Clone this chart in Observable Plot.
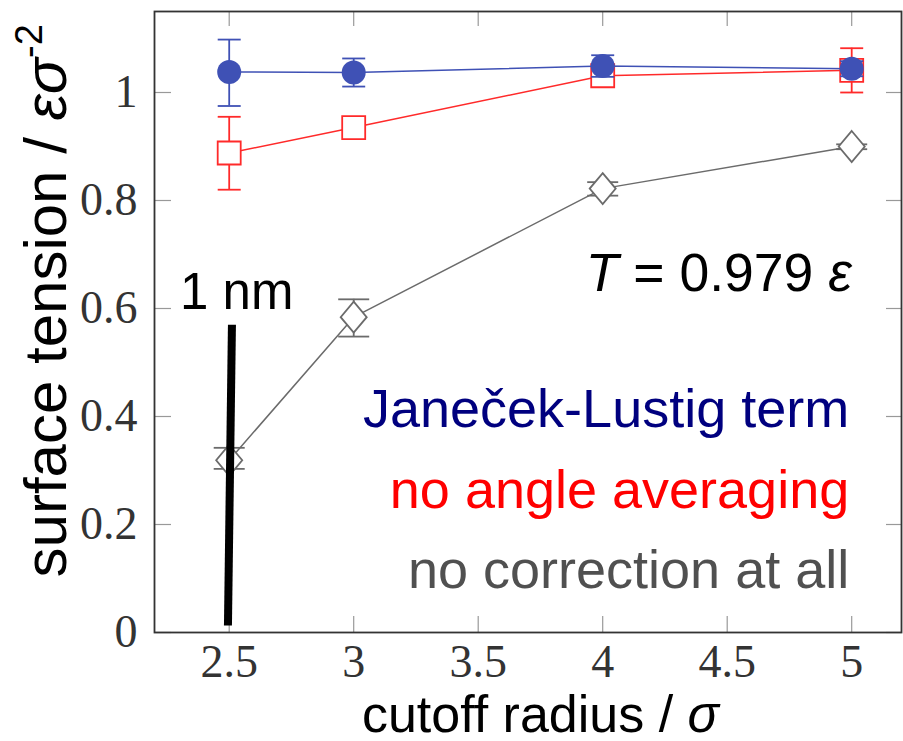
<!DOCTYPE html>
<html><head><meta charset="utf-8">
<script src="https://cdn.jsdelivr.net/npm/d3@7"></script>
<script src="https://cdn.jsdelivr.net/npm/@observablehq/plot@0.6"></script>
<style>html,body{margin:0;padding:0;background:#fff;} #chart svg{display:block;}</style>
</head><body><div id="chart"></div>
<script>
// ---- data ----
const cutoffs = [2.5, 3, 4, 5];
const jlMean = [1.038, 1.037, 1.049, 1.044];
const jlLo   = [0.975, 1.011, 1.029, 1.030];
const jlHi   = [1.098, 1.063, 1.069, 1.058];
const naMean = [0.888, 0.935, 1.031, 1.041];
const naLo   = [0.820, 0.925, 1.021, 1.000];
const naHi   = [0.955, 0.945, 1.041, 1.082];
const ncMean = [0.319, 0.584, 0.822, 0.900];
const ncLo   = [0.303, 0.548, 0.809, 0.895];
const ncHi   = [0.342, 0.617, 0.834, 0.904];
const seriesNames = ["Janeček-Lustig term", "no angle averaging", "no correction at all"];
const seriesColors = ["#3f51b5", "#ff2a2a", "#6b6b6b"];
const legendColors = ["#00007f", "#ff0000", "#505050"];
const xTicks = [2.5, 3, 3.5, 4, 4.5, 5];
const yTicks = [0, 0.2, 0.4, 0.6, 0.8, 1];
// "1 nm" scale bar (x, y of its two ends)
const nmBarX = [2.511, 2.495];
const nmBarY = [0.57, 0.013];
// annotation anchors (data coordinates)
const legendX = [4.99, 4.99, 4.99];
const legendY = [0.380, 0.231, 0.083];
const tempLabel = ["T = 0.979 ε"]; const tempX = [5.0]; const tempY = [0.633];
const nmLabel = ["1 nm"]; const nmX = [2.53]; const nmY = [0.6];
const xTitle = "cutoff radius / σ";
const yTitle = "surface tension / εσ-2";

// ---- build tables ----
function rows(mean, lo, hi, name) {
  return cutoffs.map((c, i) => ({x: c, y: mean[i], lo: lo[i], hi: hi[i], s: name}));
}
const jl = rows(jlMean, jlLo, jlHi, seriesNames[0]);
const na = rows(naMean, naLo, naHi, seriesNames[1]);
const nc = rows(ncMean, ncLo, ncHi, seriesNames[2]);
const nmBar = nmBarX.map((x, i) => ({x, y: nmBarY[i]}));
const legend = seriesNames.map((t, i) => ({t, x: legendX[i], y: legendY[i], c: legendColors[i]}));

// custom symbols (size = pi r^2)
const sq = {draw(ctx, size){ const r = Math.sqrt(size/Math.PI); ctx.moveTo(-r,-r); ctx.lineTo(r,-r); ctx.lineTo(r,r); ctx.lineTo(-r,r); ctx.closePath(); }};
const dia = {draw(ctx, size){ const r = Math.sqrt(size/Math.PI); const w = r*0.84; ctx.moveTo(0,-r); ctx.lineTo(w,0); ctx.lineTo(0,r); ctx.lineTo(-w,0); ctx.closePath(); }};
const cap = {draw(ctx, size){ const r = Math.sqrt(size/Math.PI); ctx.moveTo(-r,0); ctx.lineTo(r,0); }};

const W = 903, H = 741, mL = 154, mR = 2, mT = 11, mB = 109;
const pw = W - mL - mR, ph = H - mT - mB;
const sans = "'Liberation Sans', Arial, sans-serif";

function series(data, color, sym, r, capR, fill) {
  return [
    Plot.line(data, {x: "x", y: "y", stroke: color, strokeWidth: 1.5}),
    Plot.ruleX(data, {x: "x", y1: "lo", y2: "hi", stroke: color, strokeWidth: 1.8}),
    Plot.dot(data, {x: "x", y: "lo", symbol: cap, r: capR, stroke: color, strokeWidth: 1.8, fill: "none"}),
    Plot.dot(data, {x: "x", y: "hi", symbol: cap, r: capR, stroke: color, strokeWidth: 1.8, fill: "none"}),
    Plot.dot(data, {x: "x", y: "y", symbol: sym, r, fill, stroke: fill === color ? "none" : color, strokeWidth: 1.8})
  ];
}

const plot = Plot.plot({
  width: W, height: H,
  marginLeft: mL, marginRight: mR, marginTop: mT, marginBottom: mB,
  style: {fontFamily: "'Liberation Serif', 'DejaVu Serif', serif", fontSize: "46px", color: "#333", background: "#fff"},
  x: {domain: [2.2, 5.2], ticks: xTicks, tickSize: 0, tickPadding: 12, tickFormat: d => String(d), label: null},
  y: {domain: [0, 1.15], ticks: yTicks, tickSize: 0, tickPadding: 17, tickFormat: d => String(d), label: null},
  marks: [
    // inward ticks on all four sides
    Plot.tickX(xTicks, {x: d => d, insetTop: ph - 16, stroke: "#999", strokeWidth: 1.2}),
    Plot.tickX(xTicks, {x: d => d, insetBottom: ph - 15, stroke: "#999", strokeWidth: 1.2}),
    Plot.tickY(yTicks, {y: d => d, insetRight: pw - 17, stroke: "#999", strokeWidth: 1.2}),
    Plot.tickY(yTicks, {y: d => d, insetLeft: pw - 15, stroke: "#999", strokeWidth: 1.2}),
    ...series(nc, seriesColors[2], dia, 15.5, 15.5, "#fff"),
    ...series(na, seriesColors[1], sq, 11.5, 11.5, "#fff"),
    ...series(jl, seriesColors[0], "circle", 12, 11.5, seriesColors[0]),
    Plot.line(nmBar, {x: "x", y: "y", stroke: "#000", strokeWidth: 8, strokeLinecap: "butt"}),
    Plot.text(nmLabel, {x: nmX, y: nmY, text: d => d, fontFamily: sans, fontSize: 51, fill: "#000", lineAnchor: "bottom"}),
    Plot.text(tempLabel, {x: tempX, y: tempY, text: d => d, fontFamily: sans, fontSize: 53.5, fill: "#000", textAnchor: "end", lineAnchor: "bottom"}),
    Plot.text(legend, {x: "x", y: "y", text: "t", fill: "c", fontFamily: sans, fontSize: 54, textAnchor: "end", lineAnchor: "bottom"}),
    Plot.text([xTitle], {x: [3.75], frameAnchor: "bottom", dy: 99, text: d => d, fontFamily: sans, fontSize: 52, fill: "#000", lineAnchor: "bottom"}),
    Plot.text([yTitle], {y: [0.102], frameAnchor: "left", dx: -89, rotate: -90, text: d => d, fontFamily: sans, fontSize: 60, fill: "#000", textAnchor: "start", lineAnchor: "bottom"}),
    Plot.frame({stroke: "#333", strokeWidth: 1.8})
  ]
});
document.getElementById("chart").appendChild(plot);

// rich text: italics and superscript
const svg = d3.select(plot);
svg.selectAll("text").each(function() {
  const t = d3.select(this);
  const s = this.textContent;
  if (s === tempLabel[0]) {
    t.text(null);
    t.append("tspan").attr("font-style", "italic").text("T");
    t.append("tspan").text(" = 0.979 ");
    t.append("tspan").attr("font-style", "italic").text("ε");
  } else if (s === xTitle) {
    t.text(null);
    t.append("tspan").text("cutoff radius / ");
    t.append("tspan").attr("font-style", "italic").text("σ");
  } else if (s === yTitle) {
    t.text(null);
    t.append("tspan").text("surface tension / ");
    t.append("tspan").attr("font-style", "italic").text("εσ");
    t.append("tspan").attr("font-size", 38).attr("dy", -24).text("-2");
  }
});
</script>
</body></html>
